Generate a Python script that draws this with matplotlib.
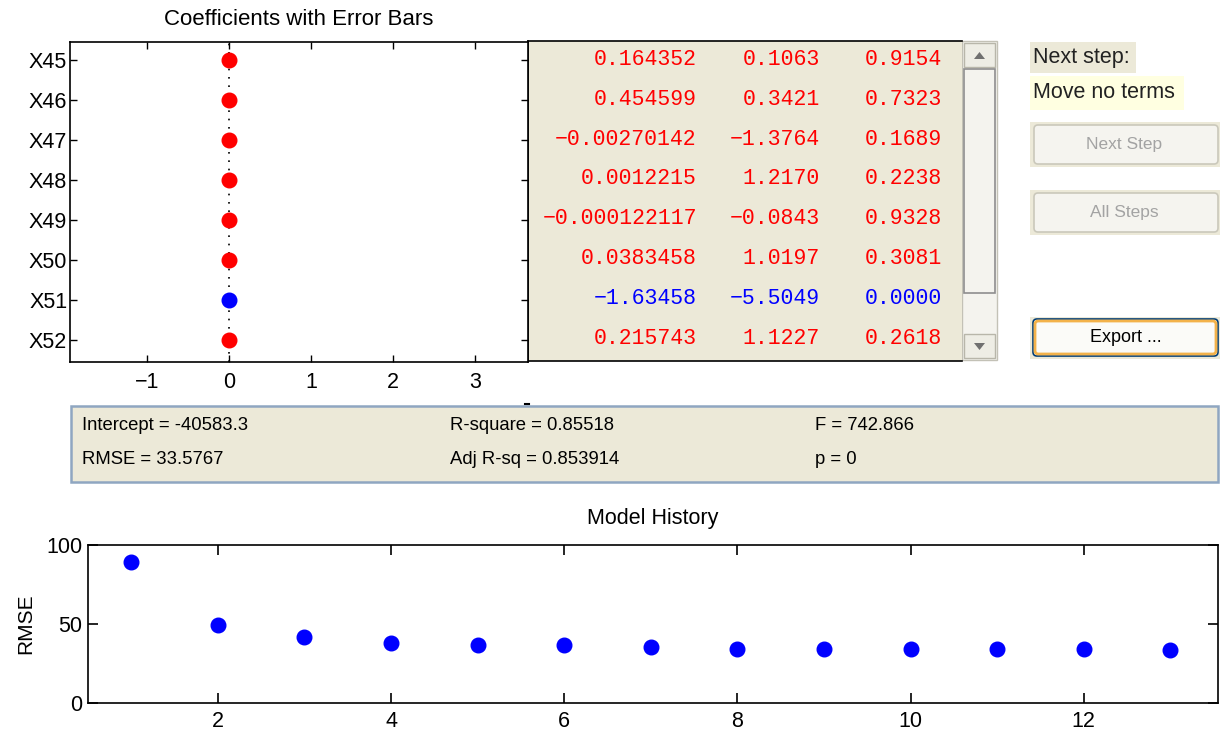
import matplotlib
matplotlib.use("Agg")
import matplotlib.pyplot as plt
from matplotlib.patches import Rectangle, FancyBboxPatch, Polygon

# ---------------------------------------------------------------- data
terms = ["X45", "X46", "X47", "X48", "X49", "X50", "X51", "X52"]
row_pos = [45, 46, 47, 48, 49, 50, 51, 52]
# plotted (scaled) coefficient positions
coef_plot = [0.0, 0.0, 0.0, 0.0, 0.0, 0.0, 0.0, 0.0]
in_model = [False, False, False, False, False, False, True, False]
coef_text = ["0.164352", "0.454599", "-0.00270142", "0.0012215",
             "-0.000122117", "0.0383458", "-1.63458", "0.215743"]
tstat_text = ["0.1063", "0.3421", "-1.3764", "1.2170",
              "-0.0843", "1.0197", "-5.5049", "1.1227"]
pval_text = ["0.9154", "0.7323", "0.1689", "0.2238",
             "0.9328", "0.3081", "0.0000", "0.2618"]
coef_xticks = [-1, 0, 1, 2, 3]

stats_labels = [["Intercept = -40583.3", "R-square = 0.85518", "F = 742.866"],
                ["RMSE = 33.5767", "Adj R-sq = 0.853914", "p = 0"]]

steps = [1, 2, 3, 4, 5, 6, 7, 8, 9, 10, 11, 12, 13]
rmse = [89.0, 49.5, 42.0, 38.0, 36.8, 36.8, 35.5, 34.3, 34.2, 34.1, 34.0, 33.9, 33.8]
hist_xticks = [2, 4, 6, 8, 10, 12]
hist_yticks = [0, 50, 100]

# ---------------------------------------------------------------- styling
W, H = 1220, 731
BEIGE = "#ECE9D8"
RED = "#FF0000"
BLUE = "#0000FF"
SANS = ["Liberation Sans", "DejaVu Sans"]
MONO = ["Liberation Mono", "DejaVu Sans Mono"]


def px_rect(x0, y0, x1, y1):
    """Pixel box (top-left origin) -> figure fraction rect."""
    return [x0 / W, 1 - y1 / H, (x1 - x0) / W, (y1 - y0) / H]


fig = plt.figure(figsize=(W / 100, H / 100), dpi=100)
fig.patch.set_facecolor("white")

# full-figure overlay in pixel units for the panel widgets
bg = fig.add_axes([0, 0, 1, 1])
bg.set_xlim(0, W)
bg.set_ylim(H, 0)
bg.axis("off")
bg.set_zorder(0)

# ---------------------------------------------------------------- coefficient axes
ax1 = fig.add_axes(px_rect(70, 42, 528, 362))
ax1.set_zorder(2)
ax1.set_xlim(-1.94, 3.65)
ax1.set_ylim(row_pos[-1] + 0.55, row_pos[0] - 0.45)
ax1.axvline(0, color="black", ls=(0, (1, 4)), lw=1.2, zorder=1)
for y, x, inm in zip(row_pos, coef_plot, in_model):
    c = BLUE if inm else RED
    ax1.plot([x], [y], "o", ms=10.5, color=c, mec=c, zorder=3)
ax1.set_yticks(row_pos)
ax1.set_yticklabels(terms, fontsize=15.5, family=SANS)
ax1.set_xticks(coef_xticks)
ax1.set_xticklabels(["\u22121" if v < 0 else str(v) for v in coef_xticks],
                    fontsize=15.5, family=SANS)
ax1.tick_params(direction="in", length=5, width=1, top=True, right=True)
ax1.tick_params(axis="y", pad=2)
ax1.tick_params(axis="x", pad=7)
for s in ax1.spines.values():
    s.set_linewidth(1.2)
ax1.set_title("Coefficients with Error Bars", fontsize=16, family=SANS, pad=12)

# ---------------------------------------------------------------- coefficient table
axt = fig.add_axes(px_rect(528, 41, 962, 361), sharey=ax1)
axt.set_zorder(1)
axt.set_facecolor(BEIGE)
axt.set_xlim(0, 1)
axt.tick_params(left=False, bottom=False, labelleft=False, labelbottom=False)
axt.spines["right"].set_visible(False)
for s in axt.spines.values():
    s.set_linewidth(1.2)
col_right = [0.389, 0.673, 0.954]
for y, a, b, c, inm in zip(row_pos, coef_text, tstat_text, pval_text, in_model):
    col = BLUE if inm else RED
    for xr, txt in zip(col_right, (a, b, c)):
        axt.text(xr, y, txt.replace("-", "\u2212"), ha="right", va="center",
                 fontsize=15.5, family=MONO, color=col)

# ---------------------------------------------------------------- scrollbar
bg.add_patch(Rectangle((962, 41), 35, 319, fc="#F4F3EE", ec="#C3C1B6", lw=1))
bg.add_patch(Rectangle((964, 43), 31, 24, fc="#EEEDE5", ec="#B8B6AA", lw=1))
bg.add_patch(Rectangle((964, 334), 31, 24, fc="#EEEDE5", ec="#B8B6AA", lw=1))
bg.add_patch(Rectangle((964, 69), 31, 224, fc="#F4F3EE", ec="#8E8E8E", lw=1.2))
bg.add_patch(Polygon([[974, 59], [985, 59], [979.5, 52]], closed=True,
                     fc="#707070", ec="none"))
bg.add_patch(Polygon([[974, 343], [985, 343], [979.5, 350]], closed=True,
                     fc="#707070", ec="none"))

# ---------------------------------------------------------------- right-hand controls
bg.add_patch(Rectangle((1030, 42), 106, 31, fc=BEIGE, ec="none"))
bg.text(1033, 58, "Next step:", fontsize=15.5, family=SANS, va="center",
        ha="left", color="#222222")
bg.add_patch(Rectangle((1030, 76), 154, 34, fc="#FFFFE1", ec="none"))
bg.text(1033, 93, "Move no terms", fontsize=15.5, family=SANS, va="center",
        ha="left", color="#222222")

for (y0, label) in [(122, "Next Step"), (190, "All Steps")]:
    bg.add_patch(Rectangle((1030, y0), 190, 45, fc=BEIGE, ec="none"))
    bg.add_patch(FancyBboxPatch((1034, y0 + 3), 184, 39,
                                boxstyle="round,pad=0,rounding_size=4",
                                fc="#F5F4EF", ec="#CAC8BB", lw=1.2))
    bg.text(1124, y0 + 22, label, fontsize=12.5, family=SANS,
            ha="center", va="center", color="#A3A3A3")

bg.add_patch(Rectangle((1030, 317), 190, 42, fc=BEIGE, ec="none"))
bg.add_patch(FancyBboxPatch((1033, 319), 185, 37,
                            boxstyle="round,pad=0,rounding_size=4",
                            fc="#FBFBF8", ec="#003C74", lw=1.2))
bg.add_patch(FancyBboxPatch((1035, 321), 181, 33,
                            boxstyle="round,pad=0,rounding_size=3",
                            fc="none", ec="#F3B24A", lw=2))
bg.text(1126, 338, "Export ...", fontsize=13, family=SANS,
        ha="center", va="center", color="black")

# ---------------------------------------------------------------- statistics panel
bg.plot([525, 529], [404, 404], color="black", lw=1.5)
bg.add_patch(Rectangle((71, 406), 1147, 76, fc=BEIGE, ec="#8FA6C1", lw=1.8))
stat_x = [82, 450, 815]
stat_y = [425, 460]
for yy, row in zip(stat_y, stats_labels):
    for xx, txt in zip(stat_x, row):
        bg.text(xx, yy, txt, fontsize=13.3, family=SANS, ha="left",
                va="center", color="black")

# ---------------------------------------------------------------- model history
ax2 = fig.add_axes(px_rect(88, 545, 1218, 703))
ax2.set_zorder(2)
ax2.plot(steps, rmse, "o", ms=10.5, color=BLUE, mec=BLUE, ls="none")
ax2.set_xlim(0.5, 13.55)
ax2.set_ylim(0, 100)
ax2.set_xticks(hist_xticks)
ax2.set_yticks(hist_yticks)
ax2.set_xticklabels([str(v) for v in hist_xticks], fontsize=15.5, family=SANS)
ax2.set_yticklabels([str(v) for v in hist_yticks], fontsize=15.5, family=SANS)
ax2.tick_params(direction="in", length=7, width=1.2, top=True, right=True)
ax2.tick_params(axis="x", pad=6)
ax2.tick_params(axis="y", pad=4)
for s in ax2.spines.values():
    s.set_linewidth(1.2)
ax2.set_ylabel("RMSE", fontsize=15, family=SANS, labelpad=8)
ax2.set_title("Model History", fontsize=15.5, family=SANS, pad=15)

fig.savefig("out.png", dpi=100)
